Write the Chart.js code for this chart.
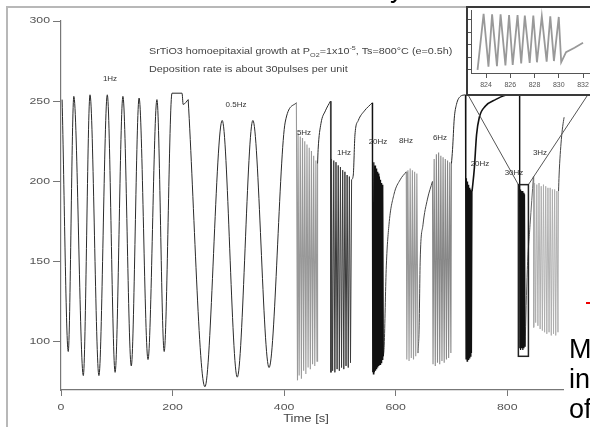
<!DOCTYPE html>
<html>
<head>
<meta charset="utf-8">
<script src="https://cdn.jsdelivr.net/npm/chart.js@4.4.1/dist/chart.umd.min.js"></script>
<style>
html, body { margin: 0; padding: 0; background: #fff; overflow: hidden; }
body { width: 590px; height: 427px; position: relative; font-family: Arial, "Liberation Sans", sans-serif; }
#frame { position: absolute; left: 6px; top: 6px; width: 620px; height: 440px; border-left: 2px solid #b8b8b8; border-top: 2px solid #b8b8b8; }
#main { position: absolute; left: 0; top: 0; filter: blur(0.3px); }
#inset { position: absolute; left: 466px; top: 6px; width: 140px; height: 86px; border: 2px solid #3a3a3a; background: #fff; }
#insetChart { position: absolute; left: 0; top: 0; filter: blur(0.3px); }
.lbl { position: absolute; font-size: 8px; color: #333; white-space: nowrap; transform: translate(-50%, -50%); }
#note { position: absolute; left: 149px; top: 41px; font-size: 9px; line-height: 14px; color: #444; white-space: nowrap; transform: scaleX(1.2); transform-origin: left top; }
#xtitle { position: absolute; left: 306px; top: 418px; font-size: 10px; color: #444; transform: translate(-50%, -50%) scaleX(1.3); white-space: nowrap; }
#slide { position: absolute; left: 569px; top: 334px; font-size: 27px; line-height: 30px; color: #000; }
#slideTop { position: absolute; left: 390px; top: -27px; font-size: 27px; color: #000; }
#redMark { position: absolute; left: 586px; top: 302px; width: 4px; height: 2px; background: #e00; }
</style>
</head>
<body>
<div id="frame"></div>
<canvas id="main" width="590" height="427"></canvas>

<div id="note">SrTiO3 homoepitaxial growth at P<sub style="font-size:6px">O2</sub>=1x10<sup style="font-size:6px">-5</sup>, Ts=800°C (e=0.5h)<br>Deposition rate is about 30pulses per unit</div>

<div class="lbl" style="left:110px;top:78px">1Hz</div>
<div class="lbl" style="left:236px;top:104px">0.5Hz</div>
<div class="lbl" style="left:304px;top:132px">5Hz</div>
<div class="lbl" style="left:344px;top:152px">1Hz</div>
<div class="lbl" style="left:378px;top:141px">20Hz</div>
<div class="lbl" style="left:406px;top:140px">8Hz</div>
<div class="lbl" style="left:440px;top:137px">6Hz</div>
<div class="lbl" style="left:480px;top:163px">20Hz</div>
<div class="lbl" style="left:514px;top:172px">30Hz</div>
<div class="lbl" style="left:540px;top:152px">3Hz</div>
<div id="xtitle">Time [s]</div>

<div id="inset"><canvas id="insetChart" width="140" height="86"></canvas></div>

<div id="slideTop">y</div>
<div id="slide">M<br>in<br>of</div>
<div id="redMark"></div>

<script>
const xTicks = [0, 200, 400, 600, 800];
const yTicks = [100, 150, 200, 250, 300];
const insetXTicks = [824, 826, 828, 830, 832];
const insetYTicks = [5, 25, 45, 65, 85];

// trace pieces, [time (s), intensity]
const run1Hz = [[2,251],[13,94],[23,253],[40,79],[52,254],[68,79],[83,254],[97,81],[111,253],[126,85],[140,252],[156,89],[172,251],[185,94],[199,255],[217,255],[219,248],[228,251]];
const run05Hz = [[228,251],[258,72],[289,238],[316,78],[344,238],[373,84],[402,237],[422,249]];
const band5Hz = [[422,249],[424,76],[425,230],[427,79],[429,228],[431,77],[433,227],[435,82],[437,225],[439,80],[441,223],[443,84],[445,221],[447,83],[449,219],[451,86],[453,216],[455,85],[457,213],[459,88],[460,211]];
const rec5Hz = [[460,211],[461,220],[466,236],[474,244],[483,250]];
const band1Hz = [[483,250],[484,81],[485,214],[487,82],[489,213],[491,81],[493,212],[495,83],[497,210],[499,82],[501,209],[503,84],[505,207],[507,83],[509,206],[511,85],[513,204],[515,84],[517,203],[519,87],[521,201]];
const rec1Hz = [[521,201],[524,204],[527,229],[533,238],[544,244],[558,249]];
const band20a = [[558,249],[558.5,81],[559,213],[560,80],[561,212],[562,81],[563,210],[564,82],[565,208],[566,83],[567,206],[568,84],[569,205],[570,85],[571,203],[572,86],[573,201],[574,87],[575,199],[576,89],[577,198],[578,91]];
const rec20a = [[578,91],[579.5,98],[583,145],[588,173],[597,192],[608,201],[619,206]];
const band8Hz = [[619,206],[620,89],[622,207],[624,88],[626,208],[628,90],[630,207],[632,89],[634,206],[636,91],[638,205],[640,93]];
const rec8Hz = [[640,93],[642,108],[644,151],[649,173],[657,189],[666,200]];
const band6Hz = [[666,200],[667,86],[669,214],[671,85],[673,217],[675,87],[677,218],[679,86],[681,216],[683,88],[685,215],[687,87],[689,214],[691,89],[693,213],[695,90],[697,212],[699,93],[700,211]];
const rec6Hz = [[700,211],[702,220],[705,239],[709,248],[716,253],[725,254]];
const band20b = [[725,254],[726,89],[727,202],[728,88],[729,200],[730,89],[731,198],[732,90],[733,196],[734,91],[735,195],[736,93],[737,194]];
const rec20b = [[737,194],[741,208],[745,229],[750,240],[761,247],[779,251],[802,254],[822,254]];
const band30Hz = [[822,254],[822.5,96],[823,195],[824,95],[825,194],[826,96],[827,194],[828,95],[829,193],[830,96],[831,192],[832,97]];
const rec30Hz = [[832,97],[836,145],[841,173],[847,203]];
const band3Hz = [[847,203],[847.5,109],[849,199],[851,112],[853,198],[855,110],[857,199],[859,108],[861,197],[863,107],[865,198],[867,106],[869,197],[871,105],[873,196],[875,106],[877,196],[879,104],[881,195],[883,105],[885,195],[887,104],[889,194],[891,106],[892,194]];
const rec3Hz = [[892,194],[893,204],[897,226],[902,240],[908,247]];

// zoomed window shown in the inset
const boxT = [820, 838];
const boxV = [91, 198];

// inset trace (intensity in arbitrary units)
const insetTrace = [[823.3,5],[823.8,94],[824.2,10],[824.5,93],[824.9,11],[825.2,93],[825.6,12],[825.9,92],[826.2,13],[826.6,92],[826.9,15],[827.2,91],[827.6,16],[827.9,91],[828.2,17],[828.6,90],[829,18],[829.3,90],[829.6,19],[830,89],[830.2,17],[830.6,33],[831.3,40],[832,48]];

const tickFamily = "Arial, 'Liberation Sans', sans-serif";

const toPts = (arr) => arr.map(([x, y]) => ({ x, y }));

function seg(arr, color, width, smooth) {
  return {
    data: toPts(arr),
    borderColor: color,
    borderWidth: width,
    pointRadius: 0,
    fill: false,
    tension: 0,
    cubicInterpolationMode: smooth ? "monotone" : "default",
    clip: false,
  };
}

// box around the zoomed part + lines to the inset
const zoomBox = {
  id: "zoomBox",
  afterDatasetsDraw(c) {
    const ctx = c.ctx;
    const x = c.scales.x;
    const y = c.scales.y;
    const l = x.getPixelForValue(boxT[0]);
    const r = x.getPixelForValue(boxT[1]);
    const t = y.getPixelForValue(boxV[1]);
    const b = y.getPixelForValue(boxV[0]);
    ctx.save();
    ctx.strokeStyle = "#555";
    ctx.lineWidth = 1;
    ctx.beginPath();
    ctx.moveTo(l, t);
    ctx.lineTo(467, 93);
    ctx.moveTo(r, t);
    ctx.lineTo(589, 93);
    ctx.stroke();
    ctx.strokeStyle = "#222";
    ctx.lineWidth = 1.5;
    ctx.strokeRect(l, t, r - l, b - t);
    ctx.restore();
  },
};

// the scanned figure has wide, squat tick numbers
const wideTicks = {
  id: "wideTicks",
  afterDraw(c) {
    const ctx = c.ctx;
    const x = c.scales.x;
    const y = c.scales.y;
    ctx.save();
    ctx.fillStyle = "#555";
    ctx.font = "8.5px " + tickFamily;
    ctx.textBaseline = "middle";
    xTicks.forEach((v) => {
      ctx.save();
      ctx.translate(x.getPixelForValue(v), x.top + 18);
      ctx.scale(1.45, 1);
      ctx.textAlign = "center";
      ctx.fillText(String(v), 0, 0);
      ctx.restore();
    });
    yTicks.forEach((v) => {
      ctx.save();
      ctx.translate(y.right - 11, y.getPixelForValue(v));
      ctx.scale(1.45, 1);
      ctx.textAlign = "right";
      ctx.fillText(String(v), 0, 0);
      ctx.restore();
    });
    ctx.restore();
  },
};

const mainChart = new Chart(document.getElementById("main"), {
  type: "line",
  data: {
    datasets: [
      seg(run1Hz, "#2a2a2a", 1, true),
      seg(run05Hz, "#2a2a2a", 1, true),
      seg(band5Hz, "#999", 1.1),
      seg(rec5Hz, "#2a2a2a", 1, true),
      seg(band1Hz, "#3a3a3a", 1),
      seg(rec1Hz, "#2a2a2a", 1, true),
      seg(band20a, "#111", 1.1),
      seg(rec20a, "#444", 1, true),
      seg(band8Hz, "#999", 1.1),
      seg(rec8Hz, "#444", 1, true),
      seg(band6Hz, "#888", 1.1),
      seg(rec6Hz, "#2a2a2a", 1, true),
      seg(band20b, "#111", 1.1),
      seg(rec20b, "#111", 1.6, true),
      seg(band30Hz, "#111", 1.2),
      seg(rec30Hz, "#666", 1, true),
      seg(band3Hz, "#aaa", 0.9),
      seg(rec3Hz, "#444", 1, true),
    ],
  },
  options: {
    responsive: false,
    animation: false,
    layout: { padding: { left: 0, right: 27, top: 21, bottom: 0 } },
    plugins: { legend: { display: false }, tooltip: { enabled: false } },
    scales: {
      x: {
        type: "linear",
        min: 0,
        max: 900,
        border: { display: true, color: "#777", width: 1.2 },
        grid: { display: true, drawOnChartArea: false, drawTicks: true, tickLength: 6, color: "#777" },
        ticks: { display: false },
        afterBuildTicks: (s) => { s.ticks = xTicks.map((v) => ({ value: v })); },
        afterFit: (s) => { s.height = 37; },
      },
      y: {
        type: "linear",
        min: 70,
        max: 300,
        border: { display: true, color: "#777", width: 1.2 },
        grid: { display: true, drawOnChartArea: false, drawTicks: true, tickLength: 8, color: "#777" },
        ticks: { display: false },
        afterBuildTicks: (s) => { s.ticks = yTicks.map((v) => ({ value: v })); },
        afterFit: (s) => { s.width = 61; },
      },
    },
  },
  plugins: [zoomBox, wideTicks],
});

const insetChart = new Chart(document.getElementById("insetChart"), {
  type: "line",
  data: { datasets: [seg(insetTrace, "#999", 1.8)] },
  options: {
    responsive: false,
    animation: false,
    layout: { padding: { left: 0, right: 0, top: 2, bottom: 0 } },
    plugins: { legend: { display: false }, tooltip: { enabled: false } },
    scales: {
      x: {
        type: "linear",
        min: 822.76,
        max: 834.06,
        border: { display: true, color: "#555", width: 1 },
        grid: { display: true, drawOnChartArea: false, drawTicks: true, tickLength: 5, color: "#555" },
        ticks: { font: { family: tickFamily, size: 7 }, color: "#555", padding: 3, maxRotation: 0 },
        afterBuildTicks: (s) => { s.ticks = insetXTicks.map((v) => ({ value: v })); },
        afterFit: (s) => { s.height = 21; },
      },
      y: {
        type: "linear",
        min: 0,
        max: 100,
        border: { display: true, color: "#555", width: 1 },
        grid: { display: true, drawOnChartArea: false, drawTicks: true, tickLength: 3, color: "#555" },
        ticks: { display: false },
        afterBuildTicks: (s) => { s.ticks = insetYTicks.map((v) => ({ value: v })); },
        afterFit: (s) => { s.width = 3; },
      },
    },
  },
});
</script>
</body>
</html>
